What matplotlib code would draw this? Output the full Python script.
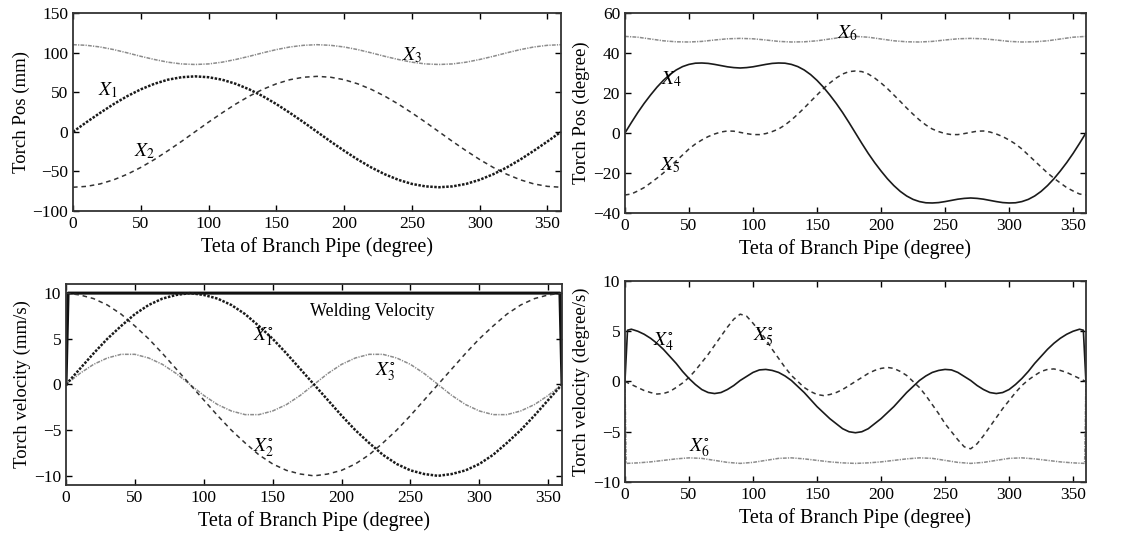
import numpy as np
import matplotlib
matplotlib.use("Agg")
import matplotlib.pyplot as plt

plt.rcParams["font.family"] = ["Liberation Serif", "DejaVu Serif"]
plt.rcParams["mathtext.fontset"] = "stix"

# ── Data ─────────────────────────────────────────────────────────────────────

theta = list(range(0, 370, 10))   # 10 degree grid
theta5 = list(range(0, 365, 5))   # 5 degree grid for the wavier curves

# torch position, mm
x1 = [0, 12.2, 23.9, 35, 45, 53.6, 60.6, 65.8, 68.9, 70, 68.9, 65.8, 60.6,
      53.6, 45, 35, 23.9, 12.2, 0, -12.2, -23.9, -35, -45, -53.6, -60.6,
      -65.8, -68.9, -70, -68.9, -65.8, -60.6, -53.6, -45, -35, -23.9, -12.2, 0]
x2 = [-70, -68.9, -65.8, -60.6, -53.6, -45, -35, -23.9, -12.2, 0, 12.2, 23.9,
      35, 45, 53.6, 60.6, 65.8, 68.9, 70, 68.9, 65.8, 60.6, 53.6, 45, 35,
      23.9, 12.2, 0, -12.2, -23.9, -35, -45, -53.6, -60.6, -65.8, -68.9, -70]
x3 = [110, 109.2, 107.1, 103.8, 99.7, 95.3, 91.3, 87.9, 85.7, 85, 85.7, 87.9,
      91.3, 95.3, 99.7, 103.8, 107.1, 109.2, 110, 109.2, 107.1, 103.8, 99.7,
      95.3, 91.3, 87.9, 85.7, 85, 85.7, 87.9, 91.3, 95.3, 99.7, 103.8, 107.1,
      109.2, 110]

# torch position, degree (5 degree grid)
x4 = [0, 5.2, 10.2, 14.8, 19, 22.9, 26.3, 29.2, 31.5, 33.2, 34.3, 34.9, 35,
      34.8, 34.3, 33.7, 33.1, 32.7, 32.5, 32.7, 33.1, 33.7, 34.3, 34.8, 35,
      34.9, 34.3, 33.2, 31.5, 29.2, 26.3, 22.9, 19, 14.8, 10.2, 5.2, 0,
      -5.2, -10.2, -14.8, -19, -22.9, -26.3, -29.2, -31.5, -33.2, -34.3,
      -34.9, -35, -34.8, -34.3, -33.7, -33.1, -32.7, -32.5, -32.7, -33.1,
      -33.7, -34.3, -34.8, -35, -34.9, -34.3, -33.2, -31.5, -29.2, -26.3,
      -22.9, -19, -14.8, -10.2, -5.2, 0]
x5 = [-31, -30.5, -29, -27.3, -25, -22.6, -20, -17, -14, -11, -8, -5.5, -3.5,
      -1.8, -0.5, 0.5, 1, 0.9, 0.3, -0.3, -0.8, -0.8, -0.3, 0.7, 2, 4, 6.5,
      9.4, 12.5, 15.8, 19, 22.2, 25, 27.5, 29.5, 30.7, 31, 30.7, 29.5, 27.5,
      25, 22.2, 19, 15.8, 12.5, 9.4, 6.5, 4, 2, 0.7, -0.3, -0.8, -0.8, -0.3,
      0.3, 0.9, 1, 0.5, -0.5, -1.8, -3.5, -5.5, -8, -11, -14, -17, -20, -22.6,
      -25, -27.3, -29, -30.5, -31]
x6 = [48.3, 47.9, 47, 46.1, 45.6, 45.5, 45.8, 46.5, 47.1, 47.3, 47.1, 46.5,
      45.8, 45.5, 45.6, 46.1, 47, 47.9, 48.3, 47.9, 47, 46.1, 45.6, 45.5,
      45.8, 46.5, 47.1, 47.3, 47.1, 46.5, 45.8, 45.5, 45.6, 46.1, 47, 47.9,
      48.3]

# torch velocity, mm/s
v1 = [0, 1.7, 3.4, 5, 6.4, 7.7, 8.7, 9.4, 9.8, 10, 9.8, 9.4, 8.7, 7.7, 6.4,
      5, 3.4, 1.7, 0, -1.7, -3.4, -5, -6.4, -7.7, -8.7, -9.4, -9.8, -10,
      -9.8, -9.4, -8.7, -7.7, -6.4, -5, -3.4, -1.7, 0]
v2 = [10, 9.8, 9.4, 8.7, 7.7, 6.4, 5, 3.4, 1.7, 0, -1.7, -3.4, -5, -6.4,
      -7.7, -8.7, -9.4, -9.8, -10, -9.8, -9.4, -8.7, -7.7, -6.4, -5, -3.4,
      -1.7, 0, 1.7, 3.4, 5, 6.4, 7.7, 8.7, 9.4, 9.8, 10]
v3 = [0, 1.2, 2.2, 2.9, 3.3, 3.3, 2.9, 2.2, 1.2, 0, -1.2, -2.2, -2.9, -3.3,
      -3.3, -2.9, -2.2, -1.2, 0, 1.2, 2.2, 2.9, 3.3, 3.3, 2.9, 2.2, 1.2, 0,
      -1.2, -2.2, -2.9, -3.3, -3.3, -2.9, -2.2, -1.2, 0]
weld_theta = [0, 1.5, 358.5, 360]
weld_v = [0, 10, 10, 0]

# torch velocity, degree/s (5 degree grid, plus the start/end ramps)
v4_theta = [0, 2] + theta5[1:-1] + [358, 360]
v4 = [0, 5.1, 5.2, 5.0, 4.7, 4.3, 3.8, 3.2, 2.5, 1.8, 1.0, 0.3, -0.3, -0.8,
      -1.1, -1.2, -1.1, -0.8, -0.4, 0.1, 0.5, 0.9, 1.15, 1.2, 1.1, 0.9, 0.55,
      0.1, -0.5, -1.1, -1.8, -2.5, -3.1, -3.7, -4.2, -4.7, -5.0, -5.1, -5.0,
      -4.7, -4.2, -3.7, -3.1, -2.5, -1.8, -1.1, -0.5, 0.1, 0.55, 0.9, 1.1,
      1.2, 1.15, 0.9, 0.5, 0.1, -0.4, -0.8, -1.1, -1.2, -1.1, -0.8, -0.3, 0.3,
      1.0, 1.8, 2.5, 3.2, 3.8, 4.3, 4.7, 5.0, 5.2, 5.1, 0]
v5 = [0, -0.3, -0.6, -0.9, -1.1, -1.25, -1.2, -1.0, -0.6, -0.15, 0.4, 1.1,
      1.9, 2.7, 3.6, 4.5, 5.4, 6.2, 6.7, 6.5, 5.8, 5.0, 4.2, 3.2, 2.3, 1.4,
      0.6, 0, -0.6, -1.0, -1.3, -1.4, -1.3, -1.1, -0.8, -0.4, 0, 0.4, 0.8,
      1.1, 1.3, 1.4, 1.3, 1.0, 0.6, 0, -0.6, -1.4, -2.3, -3.2, -4.2, -5.0,
      -5.8, -6.5, -6.7, -6.2, -5.4, -4.5, -3.6, -2.7, -1.9, -1.1, -0.4, 0.15,
      0.6, 1.0, 1.2, 1.25, 1.1, 0.9, 0.6, 0.3, 0]
v6_theta = [0, 1] + theta[1:-1] + [359, 360]
v6 = [0, -8.15, -8.1, -8.0, -7.85, -7.7, -7.6, -7.65, -7.85, -8.05, -8.15,
      -8.05, -7.85, -7.65, -7.6, -7.7, -7.85, -8.0, -8.1, -8.15, -8.1, -8.0,
      -7.85, -7.7, -7.6, -7.65, -7.85, -8.05, -8.15, -8.05, -7.85, -7.65,
      -7.6, -7.7, -7.85, -8.0, -8.1, -8.15, 0]

# ── Styles ───────────────────────────────────────────────────────────────────

DOT = dict(color="#1a1a1a", linestyle=(0, (1, 0.6)), linewidth=1.8)
DASH = dict(color="#333333", linestyle=(0, (3, 2.5)), linewidth=1.1)
GREY = dict(color="#8c8c8c", linestyle=(0, (2.5, 0.8, 0.8, 0.8)), linewidth=1.1)
SOLID = dict(color="#1a1a1a", linestyle="-", linewidth=1.2)
TXT = dict(fontsize=14, ha="center", va="center")


def style_axes(ax, ylim, yticks, ylabel):
    ax.set_xlim(0, 360)
    ax.set_ylim(*ylim)
    ax.set_xticks(range(0, 360, 50))
    ax.set_yticks(yticks)
    ax.set_yticklabels([str(t).replace("-", "\u2212") for t in yticks])
    ax.tick_params(direction="in", top=True, right=True, length=4,
                   labelsize=12.5, width=1)
    ax.set_xlabel("Teta of Branch Pipe (degree)", fontsize=14.5, labelpad=4)
    ax.set_ylabel(ylabel, fontsize=13.5, labelpad=2)
    for s in ax.spines.values():
        s.set_linewidth(1.3)
        s.set_color("#333333")


fig = plt.figure(figsize=(11.34, 5.35), dpi=100)

ax1 = fig.add_axes([0.0644, 0.6056, 0.4303, 0.3701])
ax1.plot(theta, x3, **GREY)
ax1.plot(theta, x2, **DASH)
ax1.plot(theta, x1, **DOT)
ax1.text(26, 53, "$X_1$", **TXT)
ax1.text(53, -25, "$X_2$", **TXT)
ax1.text(250, 97, "$X_3$", **TXT)
style_axes(ax1, (-100, 150), [-100, -50, 0, 50, 100, 150], "Torch Pos (mm)")

ax2 = fig.add_axes([0.5511, 0.6019, 0.4065, 0.3738])
ax2.plot(theta, x6, **GREY)
ax2.plot(theta5, x5, **DASH)
ax2.plot(theta5, x4, **SOLID)
ax2.text(36, 27, "$X_4$", **TXT)
ax2.text(35, -16, "$X_5$", **TXT)
ax2.text(174, 50, "$X_6$", **TXT)
style_axes(ax2, (-40, 60), [-40, -20, 0, 20, 40, 60], "Torch Pos (degree)")

ax3 = fig.add_axes([0.0582, 0.0935, 0.4374, 0.3757])
ax3.plot(weld_theta, weld_v, color="#111111", linewidth=2.2)
ax3.plot(theta, v3, **GREY)
ax3.plot(theta, v2, **DASH)
ax3.plot(theta, v1, **DOT)
ax3.text(143, 5.2, "$X_1^{\\circ}$", **TXT)
ax3.text(143, -6.9, "$X_2^{\\circ}$", **TXT)
ax3.text(232, 1.4, "$X_3^{\\circ}$", **TXT)
ax3.text(222, 8.0, "Welding Velocity", fontsize=13, ha="center", va="center")
style_axes(ax3, (-11, 11), [-10, -5, 0, 5, 10], "Torch velocity (mm/s)")

ax4 = fig.add_axes([0.5511, 0.0991, 0.4065, 0.3757])
ax4.plot(v6_theta, v6, **GREY)
ax4.plot(theta5, v5, **DASH)
ax4.plot(v4_theta, v4, **SOLID)
ax4.text(30, 3.9, "$X_4^{\\circ}$", **TXT)
ax4.text(108, 4.4, "$X_5^{\\circ}$", **TXT)
ax4.text(58, -6.6, "$X_6^{\\circ}$", **TXT)
style_axes(ax4, (-10, 10), [-10, -5, 0, 5, 10], "Torch velocity (degree/s)")

fig.savefig("out.png", dpi=100)
